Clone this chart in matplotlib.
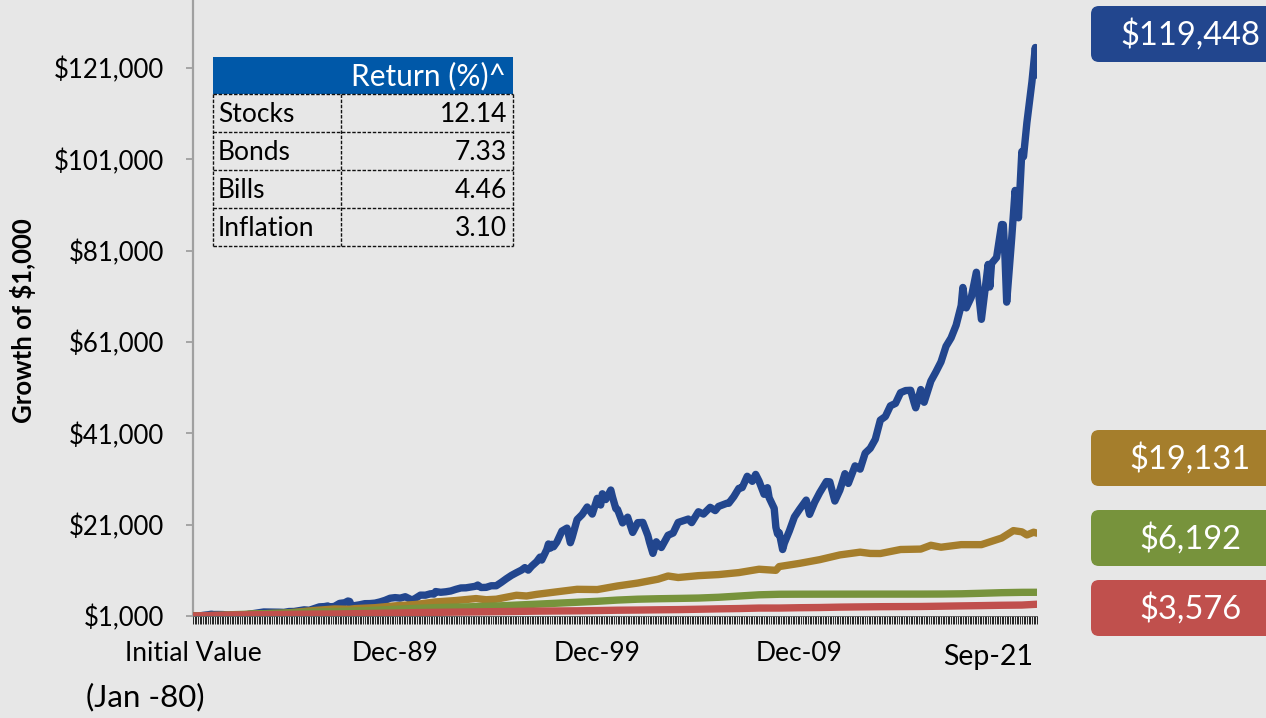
import numpy as np
import matplotlib
matplotlib.use("Agg")
import matplotlib.pyplot as plt
from matplotlib.patches import Rectangle, FancyBboxPatch

plt.rcParams['font.family'] = ['Lato', 'DejaVu Sans']

# ---- data (growth of $1,000, month keys "YYYY-MM", 1979-12 = initial value) ----
stock_dates = [
    "1979-12", "1980-01", "1980-03", "1980-06", "1980-09", "1980-11", "1980-12",
    "1981-03", "1981-06", "1981-09", "1981-12", "1982-03", "1982-07", "1982-09", "1982-12",
    "1983-03", "1983-06", "1983-09", "1983-12", "1984-03", "1984-06", "1984-09", "1984-12",
    "1985-03", "1985-06", "1985-09", "1985-12", "1986-03", "1986-06", "1986-08", "1986-09", "1986-12",
    "1987-03", "1987-06", "1987-08", "1987-09", "1987-10", "1987-11", "1987-12",
    "1988-03", "1988-06", "1988-09", "1988-12", "1989-03", "1989-06", "1989-09", "1989-12",
    "1990-03", "1990-06", "1990-10", "1990-12", "1991-03", "1991-06", "1991-09", "1991-11", "1991-12",
    "1992-03", "1992-06", "1992-09", "1992-12", "1993-03", "1993-06", "1993-09", "1993-12",
    "1994-01", "1994-03", "1994-06", "1994-09", "1994-12", "1995-03", "1995-06", "1995-09", "1995-12",
    "1996-03", "1996-05", "1996-07", "1996-09", "1996-12",
    "1997-02", "1997-03", "1997-06", "1997-07", "1997-08", "1997-09", "1997-10", "1997-12",
    "1998-03", "1998-06", "1998-08", "1998-09", "1998-12", "1999-03", "1999-06", "1999-09", "1999-12",
    "2000-02", "2000-03", "2000-05", "2000-08", "2000-09", "2000-11", "2000-12",
    "2001-03", "2001-06", "2001-09", "2001-12", "2002-03", "2002-06", "2002-07", "2002-09", "2002-11", "2002-12",
    "2003-02", "2003-06", "2003-09", "2003-12", "2004-03", "2004-06", "2004-08", "2004-12",
    "2005-03", "2005-07", "2005-10", "2005-12", "2006-05", "2006-06", "2006-09", "2006-12",
    "2007-02", "2007-05", "2007-08", "2007-10", "2007-12",
    "2008-03", "2008-05", "2008-06", "2008-09", "2008-10", "2008-11", "2008-12",
    "2009-02", "2009-03", "2009-06", "2009-09", "2009-12", "2010-04", "2010-06", "2010-09", "2010-12",
    "2011-04", "2011-06", "2011-09", "2011-12", "2012-03", "2012-05", "2012-09", "2012-12",
    "2013-03", "2013-06", "2013-09", "2013-12", "2014-03", "2014-06", "2014-09", "2014-12",
    "2015-03", "2015-06", "2015-08", "2015-09", "2015-12", "2016-02", "2016-06", "2016-09", "2016-12",
    "2017-03", "2017-06", "2017-09", "2017-12",
    "2018-01", "2018-02", "2018-03", "2018-06", "2018-09", "2018-12",
    "2019-03", "2019-04", "2019-05", "2019-06", "2019-09", "2019-12",
    "2020-01", "2020-02", "2020-03", "2020-06", "2020-08", "2020-10", "2020-12",
    "2021-01", "2021-03", "2021-06", "2021-08", "2021-09",
]
stock_values = [
    1000, 1060, 960, 1140, 1270, 1400, 1324,
    1330, 1310, 1170, 1259, 1180, 1130, 1370, 1529,
    1710, 1880, 1870, 1873, 1830, 1790, 1980, 1991,
    2180, 2350, 2260, 2622, 3000, 3060, 3200, 2950, 3112,
    3760, 3900, 4280, 4180, 3290, 3010, 3274,
    3460, 3700, 3720, 3818, 4080, 4430, 4890, 5026,
    4910, 5220, 4490, 4870, 5570, 5560, 5870, 5800, 6353,
    6190, 6300, 6480, 6837, 7140, 7170, 7350, 7526,
    7780, 7240, 7270, 7620, 7626, 8360, 9160, 9890, 10490,
    11050, 11600, 11040, 11900, 12900,
    13900, 13250, 15550, 16780, 15840, 16700, 16150, 17200,
    19600, 20250, 17050, 18150, 22120, 23230, 24870, 23320, 26770,
    25300, 27770, 26500, 28590, 27080, 24500, 24330,
    21390, 22640, 19300, 21440, 21500, 18620, 17170, 14710, 17250, 16700,
    16000, 18680, 19170, 21490, 21860, 22230, 21450, 23830,
    23320, 24800, 24080, 25000, 25700, 25680, 27130, 28950,
    29120, 31600, 30490, 32010, 30540,
    27650, 29100, 26900, 24570, 20440, 18970, 19240,
    15560, 16930, 19630, 22690, 24330, 26380, 23250, 25890, 28000,
    30440, 30380, 26170, 28580, 32170, 30030, 33880, 33160,
    36660, 37720, 39690, 43900, 44690, 47030, 47560, 49900,
    50370, 50430, 47770, 46590, 50590, 47810, 52450, 54470, 56640,
    60070, 61900, 64680, 69000,
    72950, 70260, 68470, 70820, 76280, 65970,
    74970, 78000, 73050, 78190, 79520, 86740,
    86700, 79560, 69730, 83830, 94200, 88200, 102700,
    101600, 109040, 118000, 125500, 119448,
]

bond_dates = [
    "1979-12", "1980-02", "1980-06", "1980-12", "1981-09", "1981-12", "1982-12", "1983-12",
    "1984-05", "1984-12", "1985-12", "1986-12", "1987-09", "1987-12", "1988-12", "1989-12",
    "1990-12", "1991-12", "1992-12", "1993-12", "1994-06", "1994-12", "1995-12", "1996-06",
    "1996-12", "1997-12", "1998-12", "1999-12", "2000-12", "2001-12", "2002-12", "2003-06",
    "2003-12", "2004-12", "2005-12", "2006-12", "2007-12", "2008-10", "2008-12", "2009-12",
    "2010-12", "2011-12", "2012-12", "2013-06", "2013-12", "2014-12", "2015-12", "2016-06",
    "2016-12", "2017-12", "2018-12", "2019-12", "2020-07", "2020-12", "2021-03", "2021-07",
    "2021-09",
]
bond_values = [
    1000, 900, 1080, 1027, 990, 1092, 1448, 1569,
    1560, 1806, 2205, 2543, 2470, 2614, 2820, 3229,
    3520, 4083, 4385, 4815, 4560, 4675, 5540, 5380,
    5740, 6297, 6844, 6790, 7577, 8214, 9060, 9760,
    9431, 9837, 10073, 10506, 11241, 11000, 11826, 12524,
    13338, 14378, 14982, 14700, 14682, 15563, 15656, 16490,
    16064, 16626, 16626, 18072, 19700, 19428, 18750, 19350,
    19131,
]

annual_dates = ["1979-12"] + ["%d-12" % y for y in range(1980, 2021)] + ["2021-09"]
bill_values = [
    1000, 1120, 1290, 1430, 1565, 1725, 1870, 1995, 2115, 2260, 2465,
    2670, 2835, 2950, 3055, 3190, 3390, 3590, 3800, 4010, 4220,
    4490, 4680, 4780, 4850, 4930, 5100, 5370, 5640, 5760, 5775,
    5780, 5785, 5790, 5792, 5794, 5796, 5810, 5860, 5975, 6105,
    6180, 6192,
]
inflation_values = [
    1000, 1125, 1226, 1272, 1321, 1373, 1425, 1441, 1505, 1571, 1644,
    1744, 1798, 1850, 1901, 1952, 2001, 2068, 2103, 2137, 2194,
    2269, 2304, 2359, 2403, 2481, 2566, 2631, 2738, 2741, 2815,
    2858, 2943, 2993, 3038, 3061, 3083, 3147, 3214, 3275, 3350,
    3396, 3576,
]

series_names = ["Stocks", "Bonds", "Bills", "Inflation"]
series_returns = ["12.14", "7.33", "4.46", "3.10"]
end_labels = ["$119,448", "$19,131", "$6,192", "$3,576"]
colors = ["#22468E", "#A57E2C", "#77933C", "#C0504D"]

x_labels = ["Initial Value", "Dec-89", "Dec-99", "Dec-09"]
x_label_dates = ["1979-12", "1989-12", "1999-12", "2009-12"]
y_ticks = [1000, 21000, 41000, 61000, 81000, 101000, 121000]


def month_idx(key):
    y, m = key.split("-")
    return (int(y) - 1980) * 12 + int(m)


bg = "#E7E7E7"
W, H = 1266, 718
fig = plt.figure(figsize=(W / 100, H / 100), dpi=100, facecolor=bg)
ax = fig.add_axes([193 / W, (H - 616) / H, (1037 - 193) / W, 616 / H])
ax.set_facecolor(bg)

all_series = [
    (stock_dates, stock_values),
    (bond_dates, bond_values),
    (annual_dates, bill_values),
    (annual_dates, inflation_values),
]
for (dates, vals), c in zip(all_series, colors):
    xs = [month_idx(d) for d in dates]
    ax.plot(xs, vals, color=c, lw=5.3, solid_capstyle="round", solid_joinstyle="round", zorder=3)

last = month_idx("2021-09")
ax.set_xlim(0, last)
ax.set_ylim(1000, 135900)

ax.set_yticks(y_ticks)
ax.set_yticklabels(["${:,}".format(v) for v in y_ticks], fontsize=18.5)
ax.tick_params(axis="y", length=5, width=1.3, color="#A0A0A0", pad=16, direction="out")

ax.set_xticks([month_idx(d) for d in x_label_dates])
ax.set_xticklabels(x_labels, fontsize=19)
ax.set_xticks(np.arange(0, last + 1), minor=True)
ax.tick_params(axis="x", which="both", length=6, width=0.7, color="#222222", pad=12, direction="out")

for s in ["top", "right"]:
    ax.spines[s].set_visible(False)
ax.spines["left"].set_color("#A0A0A0")
ax.spines["left"].set_linewidth(1.6)
ax.spines["bottom"].set_color("#555555")
ax.spines["bottom"].set_linewidth(0.6)

fig.text(23 / W, 1 - 321 / H, "Growth of $1,000", rotation=90, ha="center", va="center",
         fontsize=18.5, fontweight="bold")

# overlay in pixel coordinates for table, end labels and extra axis text
ov = fig.add_axes([0, 0, 1, 1], facecolor="none")
ov.set_xlim(0, W)
ov.set_ylim(H, 0)
ov.axis("off")

ov.text(988, 657, "Sep-21", ha="center", va="center", fontsize=20.5)
ov.text(145, 697, "(Jan -80)", ha="center", va="center", fontsize=22.5)

# return table
tx0, tx1, tdiv = 213, 513, 341
hy0, hy1 = 57, 94
row_h = 38
ov.add_patch(Rectangle((tx0, hy0), tx1 - tx0, hy1 - hy0, facecolor="#0058A8", edgecolor="none"))
ov.text(506, (hy0 + hy1) / 2 + 1, "Return (%)^", color="white", ha="right", va="center", fontsize=21.5)
for i, (name, ret) in enumerate(zip(series_names, series_returns)):
    y0 = hy1 + i * row_h
    ov.text(218, y0 + row_h / 2 + 1, name, ha="left", va="center", fontsize=19)
    ov.text(507, y0 + row_h / 2 + 1, ret, ha="right", va="center", fontsize=19)
ty_end = hy1 + len(series_names) * row_h
dash = dict(color="#111111", lw=1.0, linestyle=(0, (2.5, 1.2)))
for i in range(len(series_names) + 1):
    yy = hy1 + i * row_h
    ov.plot([tx0, tx1], [yy, yy], **dash)
for xx in [tx0, tdiv, tx1]:
    ov.plot([xx, xx], [hy1, ty_end], **dash)

# end value boxes
box_tops = [6, 430, 510, 580]
for lab, c, top in zip(end_labels, colors, box_tops):
    ov.add_patch(FancyBboxPatch((1091, top), 220, 56, boxstyle="round,pad=0,rounding_size=8",
                                facecolor=c, edgecolor="none"))
    ov.text(1190, top + 29, lab, color="white", ha="center", va="center", fontsize=23.5)

fig.savefig("out.png", dpi=100, facecolor=bg)
